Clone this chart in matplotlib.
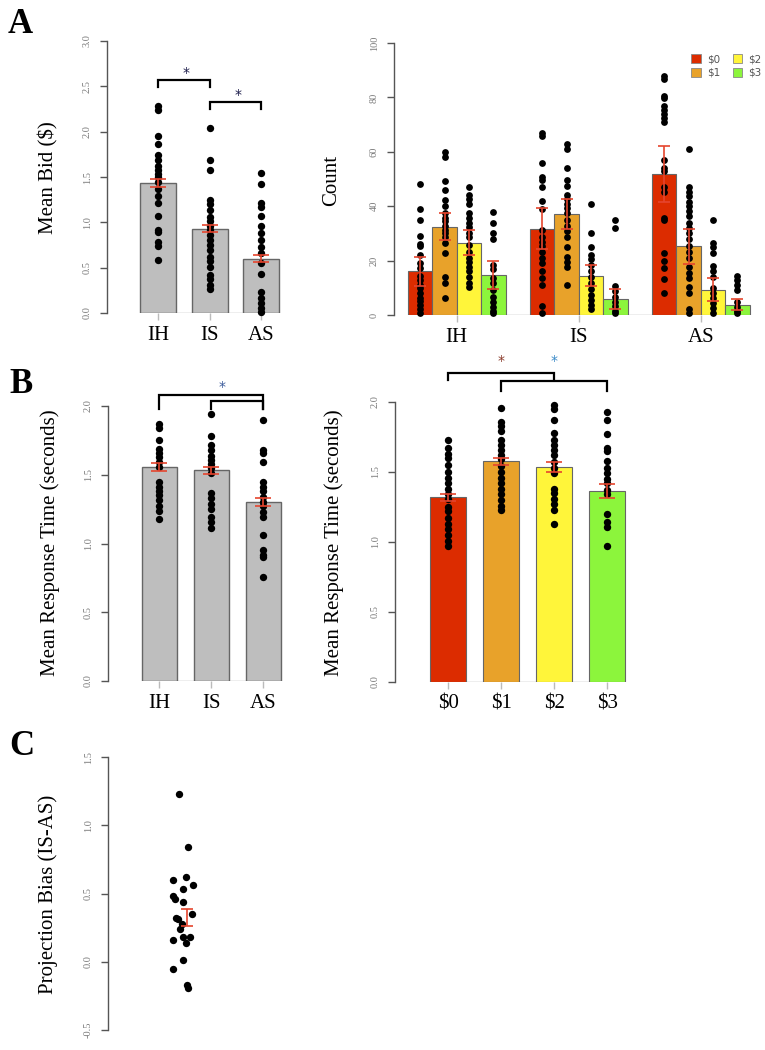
import matplotlib
matplotlib.use("Agg")
import matplotlib.pyplot as plt
from matplotlib.patches import Patch
import numpy as np

# ---------------- data ----------------
conditions = ["IH", "IS", "AS"]
bid_levels = ["$0", "$1", "$2", "$3"]
level_colors = ["#DC2C00", "#E8A22A", "#FFF53A", "#8CF53C"]

# Panel A left: mean bid per condition
bid_means = [1.43, 0.93, 0.60]
bid_se = [0.045, 0.04, 0.04]
bid_IH = [2.28, 2.24, 1.95, 1.86, 1.74, 1.69, 1.62, 1.58, 1.53, 1.50, 1.44, 1.37, 1.29,
          1.21, 1.07, 0.92, 0.89, 0.78, 0.74, 0.59]
bid_IS = [2.04, 1.69, 1.58, 1.25, 1.20, 1.14, 1.06, 1.01, 0.96, 0.92, 0.86, 0.81, 0.75,
          0.69, 0.62, 0.57, 0.51, 0.42, 0.37, 0.31, 0.26]
bid_AS = [1.54, 1.42, 1.21, 1.17, 1.07, 0.96, 0.88, 0.81, 0.73, 0.66, 0.55, 0.43, 0.23,
          0.17, 0.11, 0.06, 0.01]
bid_points = [bid_IH, bid_IS, bid_AS]

# Panel A right: count of each bid level per condition
count_means = [[16.0, 32.5, 26.6, 14.8],
               [31.7, 37.2, 14.4, 5.9],
               [51.8, 25.2, 9.3, 3.8]]
count_se = [[5.5, 5.1, 4.6, 5.1],
            [7.6, 5.6, 3.8, 3.8],
            [10.4, 6.4, 4.3, 2.0]]
count_IH = [[48.1, 39, 35, 29.1, 26, 25.2, 22.1, 19, 17.2, 14.4, 12.9, 11, 9.8, 8.2, 6.4, 5.2, 3.7, 2.1, 0.6],
            [60.1, 58, 49.1, 46, 42.3, 39.9, 37.4, 35.6, 34.4, 32.8, 31.3, 30.1, 28.6, 26.4, 22.9, 14.1, 11.9, 6.1],
            [47, 44.2, 42.6, 40.9, 37.4, 35.6, 34, 32.5, 30.3, 28.6, 25.8, 23.3, 21.1, 19.6, 17.8, 16, 14.1, 11.9, 10.2],
            [38, 34, 30.1, 27.9, 18.2, 16.8, 13.5, 11.7, 9.2, 6.7, 4.9, 3.1, 1.6, 0.6]]
count_IS = [[66.9, 65.9, 55.8, 50.9, 49.7, 46.9, 42, 38.9, 31.3, 28.8, 27, 25.2, 23.1, 20.9, 19, 16.3, 13.5, 11, 3.3, 0.6],
            [62.9, 61, 54, 49.7, 47.5, 44.2, 42.6, 40.9, 39.3, 37.4, 35, 32.8, 30.7, 28.6, 24.9, 21.2, 19.6, 17.8, 11],
            [40.9, 30.1, 24.9, 22.1, 20.5, 18.4, 16.3, 14.1, 11.7, 9.4, 7.4, 5.5, 3.7, 2.1],
            [35, 31.9, 10.7, 9, 6.7, 4.9, 3.3, 1.6, 0.6]]
count_AS = [[87.7, 86.7, 80.6, 79.8, 76.9, 75.5, 74, 72.4, 70.8, 57.1, 54, 52.8, 47.2, 45.4, 35.6, 35, 22.9, 20, 17.2, 13.1, 8],
            [61, 47.2, 45.4, 43.6, 41.7, 39.9, 38.4, 36.4, 34, 31.9, 30.1, 27.9, 25.4, 23.3, 20.9, 17.8, 15.6, 13.5, 10.2, 8, 2.1, 0.6],
            [35, 26.4, 24.9, 22.7, 18, 16, 13.9, 9.8, 8, 6.1, 4.3, 2.5, 0.6],
            [14.4, 12.9, 11, 9.2, 4.9, 3.1, 1.6, 0.6]]
count_points = [count_IH, count_IS, count_AS]

# Panel B left: response time per condition
rt_cond_means = [1.556, 1.534, 1.30]
rt_cond_se = [0.03, 0.025, 0.03]
rt_IH = [1.87, 1.84, 1.75, 1.69, 1.66, 1.63, 1.59, 1.56, 1.45, 1.41, 1.38, 1.35, 1.32, 1.27, 1.24, 1.18]
rt_IS = [1.94, 1.78, 1.72, 1.68, 1.64, 1.61, 1.58, 1.55, 1.51, 1.37, 1.33, 1.29, 1.25, 1.19, 1.16, 1.11]
rt_AS = [1.90, 1.68, 1.66, 1.59, 1.45, 1.41, 1.38, 1.34, 1.30, 1.27, 1.23, 1.19, 1.06, 0.95, 0.92, 0.90, 0.76]
rt_cond_points = [rt_IH, rt_IS, rt_AS]

# Panel B right: response time per bid level
rt_bid_means = [1.32, 1.575, 1.537, 1.365]
rt_bid_se = [0.025, 0.025, 0.035, 0.05]
rt_0 = [1.73, 1.67, 1.63, 1.60, 1.55, 1.50, 1.46, 1.42, 1.38, 1.34, 1.31, 1.25, 1.22, 1.17, 1.13, 1.09, 1.05, 1.01, 0.97]
rt_1 = [1.96, 1.86, 1.83, 1.79, 1.73, 1.69, 1.66, 1.62, 1.59, 1.54, 1.50, 1.46, 1.42, 1.38, 1.34, 1.30, 1.26, 1.23]
rt_2 = [1.98, 1.95, 1.87, 1.78, 1.73, 1.69, 1.66, 1.62, 1.57, 1.53, 1.49, 1.38, 1.35, 1.31, 1.27, 1.23, 1.13]
rt_3 = [1.93, 1.87, 1.77, 1.67, 1.65, 1.58, 1.53, 1.49, 1.45, 1.42, 1.37, 1.34, 1.20, 1.14, 1.11, 0.97]
rt_bid_points = [rt_0, rt_1, rt_2, rt_3]

# Panel C: projection bias (IS-AS)
bias_values = [1.23, 0.84, 0.60, 0.62, 0.56, 0.53, 0.48, 0.46, 0.44, 0.35, 0.32, 0.31,
               0.28, 0.24, 0.16, 0.18, 0.18, 0.14, 0.01, -0.05, -0.17, -0.19]
bias_jitter = [-3, 6, -9, 4, 11, 1, -9, -7, 1, 10, -6, -4, 0, -2, -9, 1, 8, 4, 1, -9, 5, 6]
bias_mean = 0.324
bias_se = 0.061

# ---------------- style ----------------
W, H = 765, 1050
fig = plt.figure(figsize=(W / 100, H / 100), dpi=100)
SERIF = ["Liberation Serif", "DejaVu Serif"]
plt.rcParams["font.family"] = SERIF

GRAY_BAR = "#BEBEBE"
GRAY_EDGE = "#666666"
ERR_RED = "#E5452E"
TICKLAB_GRAY = "#7A7A7A"
STAR_NAVY = "#1B1B4A"


def rect(x0, x1, ybot, ytop):
    return [x0 / W, 1 - ybot / H, (x1 - x0) / W, (ybot - ytop) / H]


def style_axes(ax, yticks, yticklabels):
    for s in ["top", "right", "bottom"]:
        ax.spines[s].set_visible(False)
    ax.spines["left"].set_color("#555555")
    ax.spines["left"].set_linewidth(1.0)
    ax.spines["left"].set_bounds(yticks[0], yticks[-1])
    ax.set_yticks(yticks)
    ax.set_yticklabels(yticklabels, rotation=90, va="center", fontsize=7.5,
                       color=TICKLAB_GRAY, family=SERIF)
    ax.tick_params(axis="y", length=5, width=1.0, color="#555555", pad=6)
    ax.tick_params(axis="x", length=5, width=1.0, color="#BBBBBB", labelsize=15, pad=4)
    ax.set_facecolor("none")


def bracket(ax, x1, x2, y, yl1, yl2):
    ax.plot([x1, x1, x2, x2], [yl1, y, y, yl2], color="black", lw=1.6, clip_on=False,
            solid_joinstyle="miter")


# ---------------- Panel A left ----------------
ax = fig.add_axes(rect(107, 290, 313, 41))
xa = np.arange(len(conditions))
ax.bar(xa, bid_means, width=0.7, color=GRAY_BAR, edgecolor=GRAY_EDGE, linewidth=1.0, zorder=1)
ax.hlines(0, xa[0] - 0.35, xa[-1] + 0.35, color="#AAAAAA", lw=1.0, zorder=0)
for i, pts in enumerate(bid_points):
    ax.scatter(np.full(len(pts), xa[i]), pts, s=28, color="black", zorder=3, clip_on=False, linewidths=0)
ax.errorbar(xa, bid_means, yerr=bid_se, fmt="none", ecolor=ERR_RED, elinewidth=1.2,
            capsize=6, capthick=1.2, zorder=4)
ax.set_xlim(-0.99, 2.56)
ax.set_ylim(0, 3.0)
style_axes(ax, np.arange(0, 3.01, 0.5), ["%.1f" % v for v in np.arange(0, 3.01, 0.5)])
ax.set_xticks(xa)
ax.set_xticklabels(conditions)
bracket(ax, xa[0], xa[1], 2.57, 2.49, 2.49)
bracket(ax, xa[1], xa[2], 2.33, 2.25, 2.25)
ax.text(0.55, 2.65, "*", ha="center", va="center", fontsize=10, color=STAR_NAVY, family="DejaVu Sans")
ax.text(1.55, 2.40, "*", ha="center", va="center", fontsize=10, color=STAR_NAVY, family="DejaVu Sans")

# ---------------- Panel A right ----------------
ax = fig.add_axes(rect(394, 754, 315, 43))
nlev = len(bid_levels)
for g in range(len(conditions)):
    lefts = 1 + g * (nlev + 1) + np.arange(nlev)
    centers = lefts + 0.5
    ax.bar(centers, count_means[g], width=1.0, color=level_colors, edgecolor=GRAY_EDGE,
           linewidth=0.8, zorder=1)
    for j in range(nlev):
        pts = count_points[g][j]
        ax.scatter(np.full(len(pts), centers[j]), pts, s=24, color="black", zorder=3,
                   clip_on=False, linewidths=0)
    ax.errorbar(centers, count_means[g], yerr=count_se[g], fmt="none", ecolor=ERR_RED,
                elinewidth=1.2, capsize=4, capthick=1.2, zorder=4)
total_right = 1 + (len(conditions) - 1) * (nlev + 1) + nlev
ax.hlines(0, 1, total_right, color="#AAAAAA", lw=1.0, zorder=0)
ax.set_xlim(0.426, 15.18)
ax.set_ylim(0, 100)
style_axes(ax, np.arange(0, 101, 20), [str(v) for v in range(0, 101, 20)])
group_centers = [1 + g * (nlev + 1) + nlev / 2 for g in range(len(conditions))]
ax.set_xticks(group_centers)
ax.set_xticklabels(conditions)
handles = [Patch(facecolor=c, edgecolor="#888888", linewidth=0.6) for c in level_colors]
ax.legend(handles, bid_levels, ncol=2, loc="upper left", bbox_to_anchor=(686 / W, 1 - 49 / H),
          bbox_transform=fig.transFigure, frameon=False, handlelength=0.9,
          handleheight=0.9, handletextpad=0.6, columnspacing=1.2, labelspacing=0.35,
          prop={"family": "DejaVu Sans", "size": 7.5}, labelcolor="#555555", borderpad=0)

# ---------------- Panel B left ----------------
ax = fig.add_axes(rect(108, 290, 681, 406))
xb = np.arange(len(conditions))
ax.bar(xb, rt_cond_means, width=0.68, color=GRAY_BAR, edgecolor=GRAY_EDGE, linewidth=1.0, zorder=1)
ax.hlines(0, xb[0] - 0.34, xb[-1] + 0.34, color="#AAAAAA", lw=1.0, zorder=0)
for i, pts in enumerate(rt_cond_points):
    ax.scatter(np.full(len(pts), xb[i]), pts, s=28, color="black", zorder=3, clip_on=False, linewidths=0)
ax.errorbar(xb, rt_cond_means, yerr=rt_cond_se, fmt="none", ecolor=ERR_RED, elinewidth=1.2,
            capsize=6, capthick=1.2, zorder=4)
ax.set_xlim(-0.99, 2.51)
ax.set_ylim(0, 2.0)
style_axes(ax, np.arange(0, 2.01, 0.5), ["%.1f" % v for v in np.arange(0, 2.01, 0.5)])
ax.set_xticks(xb)
ax.set_xticklabels(conditions)
bracket(ax, xb[0], xb[2], 2.08, 1.98, 1.98)
bracket(ax, xb[1], xb[2], 2.04, 1.98, 1.98)
ax.text(1.2, 2.14, "*", ha="center", va="center", fontsize=10, color="#3A5A9A", family="DejaVu Sans")

# ---------------- Panel B right ----------------
ax = fig.add_axes(rect(395, 630, 682, 402))
xc = np.arange(len(bid_levels))
ax.bar(xc, rt_bid_means, width=0.68, color=level_colors, edgecolor=GRAY_EDGE, linewidth=0.8, zorder=1)
ax.hlines(0, xc[0] - 0.34, xc[-1] + 0.34, color="#AAAAAA", lw=1.0, zorder=0)
for i, pts in enumerate(rt_bid_points):
    ax.scatter(np.full(len(pts), xc[i]), pts, s=28, color="black", zorder=3, clip_on=False, linewidths=0)
ax.errorbar(xc, rt_bid_means, yerr=rt_bid_se, fmt="none", ecolor=ERR_RED, elinewidth=1.2,
            capsize=6, capthick=1.2, zorder=4)
ax.set_xlim(-1.0, 3.43)
ax.set_ylim(0, 2.0)
style_axes(ax, np.arange(0, 2.01, 0.5), ["%.1f" % v for v in np.arange(0, 2.01, 0.5)])
ax.set_xticks(xc)
ax.set_xticklabels(bid_levels)
bracket(ax, xc[0], xc[2], 2.21, 2.16, 2.16)
bracket(ax, xc[1], xc[3], 2.15, 2.08, 2.08)
ax.text(1.0, 2.29, "*", ha="center", va="center", fontsize=10, color="#8A3A2A", family="DejaVu Sans")
ax.text(2.0, 2.29, "*", ha="center", va="center", fontsize=10, color="#3A8AC8", family="DejaVu Sans")

# ---------------- Panel C ----------------
ax = fig.add_axes(rect(108, 290, 1030, 757))
ax.scatter(bias_jitter, bias_values, s=28, color="black", zorder=3, clip_on=False, linewidths=0)
ax.errorbar([5], [bias_mean], yerr=[bias_se], fmt="none", ecolor=ERR_RED, elinewidth=1.2,
            capsize=4, capthick=1.2, zorder=4)
ax.set_xlim(-74, 108)
ax.set_ylim(-0.5, 1.5)
style_axes(ax, np.arange(-0.5, 1.51, 0.5), ["%.1f" % v for v in np.arange(-0.5, 1.51, 0.5)])
ax.set_xticks([])

# ---------------- labels ----------------
def ftext(x, y, s, **kw):
    fig.text(x / W, 1 - y / H, s, **kw)

ftext(48, 178, "Mean Bid ($)", rotation=90, ha="center", va="center", fontsize=15)
ftext(332, 180, "Count", rotation=90, ha="center", va="center", fontsize=15)
ftext(50, 543, "Mean Response Time (seconds)", rotation=90, ha="center", va="center", fontsize=15)
ftext(334, 543, "Mean Response Time (seconds)", rotation=90, ha="center", va="center", fontsize=15)
ftext(48, 894, "Projection Bias (IS-AS)", rotation=90, ha="center", va="center", fontsize=15)

ftext(8, 33, "A", ha="left", va="baseline", fontsize=25, fontweight="bold")
ftext(9, 393, "B", ha="left", va="baseline", fontsize=25, fontweight="bold")
ftext(9, 755, "C", ha="left", va="baseline", fontsize=25, fontweight="bold")

fig.savefig("out.png", dpi=100, facecolor="white")
